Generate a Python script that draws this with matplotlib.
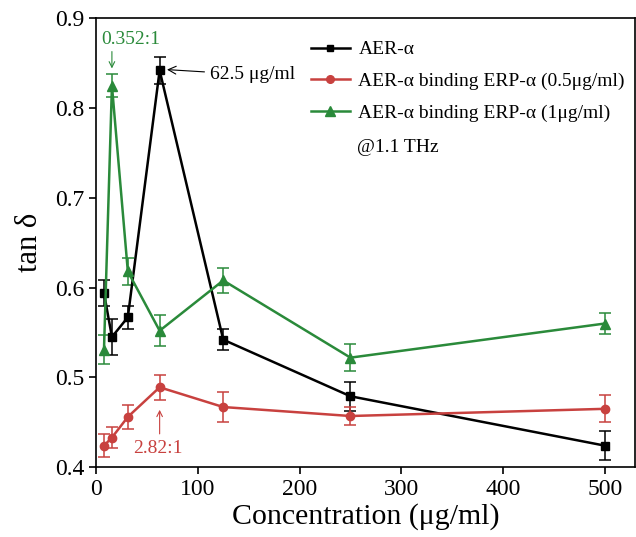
import numpy as np
import matplotlib.pyplot as plt
from matplotlib.lines import Line2D

plt.rcParams['font.family'] = ['Liberation Serif', 'DejaVu Serif']

# concentrations (ug/ml)
conc = [7.8125, 15.625, 31.25, 62.5, 125, 250, 500]

aer = [0.594, 0.545, 0.567, 0.842, 0.542, 0.479, 0.424]
aer_err = [0.015, 0.020, 0.013, 0.015, 0.012, 0.016, 0.016]

erp05 = [0.424, 0.433, 0.456, 0.489, 0.467, 0.457, 0.465]
erp05_err = [0.013, 0.012, 0.013, 0.014, 0.017, 0.010, 0.015]

erp1 = [0.531, 0.825, 0.618, 0.552, 0.608, 0.522, 0.560]
erp1_err = [0.016, 0.013, 0.015, 0.017, 0.014, 0.015, 0.012]

labels = ['AER-α', 'AER-α binding ERP-α (0.5μg/ml)', 'AER-α binding ERP-α (1μg/ml)']

black = '#000000'
red = '#c8413f'
green = '#2a8a3a'

fig = plt.figure(figsize=(6.36, 5.37), dpi=100)
ax = fig.add_axes([0.151, 0.130, 0.848, 0.836])

kw = dict(lw=1.8, capsize=4.5, elinewidth=1.1, capthick=1.1)
ax.errorbar(conc, aer, yerr=aer_err, color=black, marker='s', ms=5.5, **kw)
ax.errorbar(conc, erp05, yerr=erp05_err, color=red, marker='o', ms=6, **kw)
ax.errorbar(conc, erp1, yerr=erp1_err, color=green, marker='^', ms=7.5, **kw)

ax.set_xlim(0, 530)
ax.set_ylim(0.4, 0.9)
ax.set_xticks([0, 100, 200, 300, 400, 500])
ax.set_yticks([0.4, 0.5, 0.6, 0.7, 0.8, 0.9])
ax.set_yticklabels(['0.4', '0.5', '0.6', '0.7', '0.8', '0.9'])
ax.tick_params(labelsize=17, direction='out', length=5, width=1.2)
for s in ax.spines.values():
    s.set_linewidth(1.2)

ax.set_xlabel('Concentration (μg/ml)', fontsize=21.5, labelpad=2)
ax.set_ylabel('tan δ', fontsize=22, labelpad=8)

handles = [Line2D([], [], color=black, marker='s', ms=5, lw=1.8),
           Line2D([], [], color=red, marker='o', ms=5.5, lw=1.8),
           Line2D([], [], color=green, marker='^', ms=7, lw=1.8)]
ax.legend(handles, labels, loc='upper left', bbox_to_anchor=(0.398, 0.95),
          frameon=False, fontsize=14, handlelength=2.0, handletextpad=0.45,
          borderpad=0, borderaxespad=0, labelspacing=0.72)

ax.text(256, 0.756, '@1.1 THz', fontsize=14, va='center')

ax.text(5, 0.876, '0.352:1', color=green, fontsize=14, va='center')
ax.annotate('', xy=(15.6, 0.841), xytext=(15.6, 0.866),
            arrowprops=dict(arrowstyle='->', color=green, lw=0.8))
ax.annotate('62.5 μg/ml', xy=(67, 0.843), xytext=(112, 0.837),
            color=black, fontsize=14, ha='left', va='center',
            arrowprops=dict(arrowstyle='->', color=black, lw=0.8))
ax.text(61, 0.421, '2.82:1', color=red, fontsize=14, ha='center', va='center')
ax.annotate('', xy=(62.5, 0.467), xytext=(62.5, 0.434),
            arrowprops=dict(arrowstyle='->', color=red, lw=0.8))

plt.savefig('out.png', dpi=100)
